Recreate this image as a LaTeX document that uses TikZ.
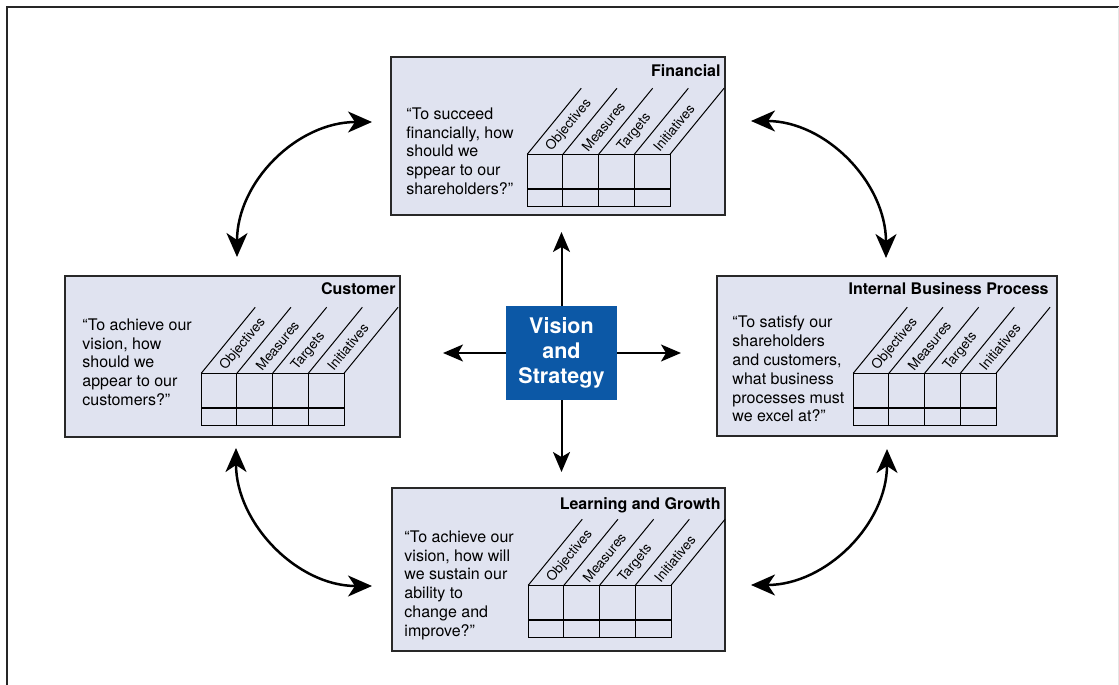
\documentclass[tikz,border=0pt]{standalone}
\usepackage{fontspec}
\setmainfont{TeX Gyre Heros}
\usepackage{tikz}
\usetikzlibrary{arrows.meta, calc, positioning}
\usepackage{xcolor}
\definecolor{panelfill}{RGB}{224, 227, 240}
\definecolor{paneldraw}{RGB}{40, 40, 40}
\definecolor{visionblue}{RGB}{12, 88, 166}
\newcommand{\measgrid}[1]{%
  \coordinate (#1-g) at ($(#1.north west)+(137,98)$);
  \foreach \lbl [count=\k from 0] in {Objectives, Measures, Targets, Initiatives} {
    \draw[gridline] ($(#1-g)+(35.7*\k,0)$) rectangle ++(35.7,52);
    \node[collabel] at ($(#1-g)+(35.7*\k+21.6,-4.6)$) {\lbl};
  }
  \draw[gridline, line width=1.6pt] ($(#1-g)+(0,35)$) -- ++(142.8,0);
  \foreach \k in {0,...,4}
    \draw[gridline] ($(#1-g)+(35.7*\k,0)$) -- ++(54,-66);
}

\begin{document}
\begin{tikzpicture}[x=1pt, y=-1pt,
  panel/.style={draw=paneldraw, fill=panelfill, line width=1.5pt,
    minimum height=160pt, inner sep=0pt},
  title/.style={font=\fontsize{16}{19}\selectfont\bfseries, anchor=base east,
    inner sep=0pt},
  quote/.style={font=\fontsize{16}{18.8}\selectfont, align=left, anchor=west,
    inner sep=0pt},
  collabel/.style={font=\fontsize{13.5}{15}\selectfont, rotate=50.6,
    anchor=west, inner sep=0pt},
  gridline/.style={draw=black, line width=1pt},
  arrow/.style={-{Stealth[length=20pt, width=17pt, inset=5pt]}, line width=2pt},
  curv/.style={{Stealth[length=24pt, width=21pt, inset=7pt]}-{Stealth[length=24pt,
    width=21pt, inset=7pt]}, line width=2.5pt}
]
  \useasboundingbox (0,0) rectangle (1119,685);
  % Frame
  \draw[line width=2.5pt, black!85] (7,685) -- (7,7) -- (1119,7);
  \draw[line width=1pt, black!10] (1118,7) -- (1118,685);

  % Blocks
  \node[panel, minimum width=334pt, minimum height=158pt] (fin) at (558,136) {};
  \node[panel, minimum width=335pt, minimum height=161pt] (cust) at (232.5,356.5) {};
  \node[panel, minimum width=340pt] (ibp) at (887,356) {};
  \node[panel, minimum width=333pt, minimum height=163pt] (learn) at (558.5,569.5) {};
  \node[fill=visionblue, minimum width=111pt, minimum height=94pt, inner sep=0pt,
    align=center, text=white, font=\fontsize{21.5}{25}\selectfont\bfseries]
    (vis) at (561.5,353) {Vision\\ and\\ Strategy};

  % Titles
  \node[title] (fin-t) at ($(fin.north east)+(-5,20)$) {Financial};
  \node[title] (cust-t) at ($(cust.north east)+(-5,19)$) {Customer};
  \node[title] (ibp-t) at ($(ibp.north east)+(-9,19)$) {Internal Business Process};
  \node[title] (learn-t) at ($(learn.north east)+(-5,22)$) {Learning and Growth};

  % Questions
  \node[quote] (fin-q) at ($(fin.north west)+(16,95)$)
    {“To succeed\\ financially, how\\ should we\\ sppear to our\\ shareholders?”};
  \node[quote] (cust-q) at ($(cust.north west)+(18,87)$)
    {“To achieve our\\ vision, how\\ should we\\ appear to our\\ customers?”};
  \node[quote] (ibp-q) at ($(ibp.north west)+(16,94)$)
    {“To satisfy our\\ shareholders\\ and customers,\\ what business\\ processes must\\ we excel at?”};
  \node[quote] (learn-q) at ($(learn.north west)+(13,98)$)
    {“To achieve our\\ vision, how will\\ we sustain our\\ ability to\\ change and\\ improve?”};

  % Grids
  \measgrid{fin}
  \measgrid{cust}
  \measgrid{ibp}
  \measgrid{learn}

  % Arrows
  \coordinate (vup) at (561.5,232);
  \coordinate (vdown) at (561.5,472);
  \coordinate (vleft) at (443,353);
  \coordinate (vright) at (681,353);
  \draw[arrow] (vis.north) -- (vup);
  \draw[arrow] (vis.south) -- (vdown);
  \draw[arrow] (vis.west) -- (vleft);
  \draw[arrow] (vis.east) -- (vright);

  \coordinate (c1) at (237,257);
  \coordinate (f1) at (372,122);
  \coordinate (f2) at (751,121);
  \coordinate (i1) at (886,258);
  \coordinate (c2) at (236,448);
  \coordinate (l1) at (372,586);
  \coordinate (i2) at (887,449);
  \coordinate (l2) at (751,585);
  \draw[curv] (c1) .. controls +(0,-75) and +(-75,0) .. (f1);
  \draw[curv] (f2) .. controls +(75,0) and +(0,-75) .. (i1);
  \draw[curv] (c2) .. controls +(0,75) and +(-75,0) .. (l1);
  \draw[curv] (i2) .. controls +(0,75) and +(75,0) .. (l2);
\end{tikzpicture}
\end{document}
